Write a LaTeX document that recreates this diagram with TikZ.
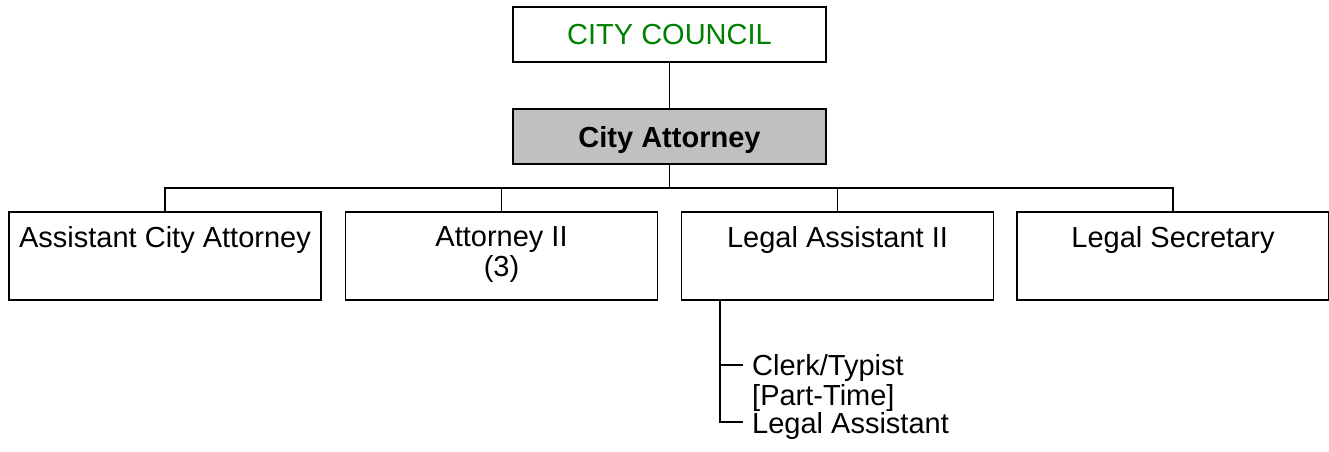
\documentclass[tikz,border=0pt]{standalone}
\usepackage{fontspec}
\setmainfont{Liberation Sans}
\definecolor{ccgreen}{RGB}{0,128,0}
\definecolor{boxgray}{RGB}{192,192,192}
\begin{document}
\begin{tikzpicture}[x=1pt,y=-1pt,
  every node/.style={font=\fontsize{29}{30.5}\selectfont},
  line/.style={line width=1.8pt,draw=black},
  topbox/.style={line, rectangle, minimum width=313pt, minimum height=55pt, inner sep=0pt},
  posbox/.style={line, rectangle, minimum width=312pt, minimum height=88pt, inner sep=0pt},
  postext/.style={anchor=north, align=center, inner sep=0pt, yshift=-15pt},
  subtext/.style={anchor=north west, align=left, inner sep=0pt}
]
\useasboundingbox (0,0) rectangle (1329,451);
% top boxes
\node[topbox, text=ccgreen] (cc) at (669.5,34.5) {CITY COUNCIL};
\node[topbox, fill=boxgray, text depth=0pt] (ca) at (669.5,136.5) {\bfseries City Attorney};
% position boxes
\node[posbox] (b1) at (165,256) {};
\node[posbox] (b2) at (501.5,256) {};
\node[posbox] (b3) at (837.5,256) {};
\node[posbox] (b4) at (1173,256) {};
\node[postext] (t1) at (b1.north) {Assistant City Attorney};
\node[postext] (t2) at (b2.north) {Attorney II\\(3)};
\node[postext] (t3) at (b3.north) {Legal Assistant II};
\node[postext] (t4) at (b4.north) {Legal Secretary};
% connectors
\coordinate (bus) at (669.5,188);
\draw[line] (cc.south) -- (ca.north);
\draw[line] (ca.south) -- (bus);
\draw[line] (b1.north) |- (bus) -| (b4.north);
\draw[line] (b2.north) -- (b2.north |- bus);
\draw[line] (b3.north) -- (b3.north |- bus);
% sub list under Legal Assistant II
\node[subtext] (s1) at (752,354) {Clerk/Typist\\{}[Part-Time]};
\node[subtext] (s2) at (752,412) {Legal Assistant};
\coordinate (sptop) at (720,300);
\coordinate (k1) at (743,365);
\coordinate (k2) at (743,422);
\draw[line] (sptop) |- (k2);
\draw[line] (sptop |- k1) -- (k1);
\end{tikzpicture}
\end{document}
